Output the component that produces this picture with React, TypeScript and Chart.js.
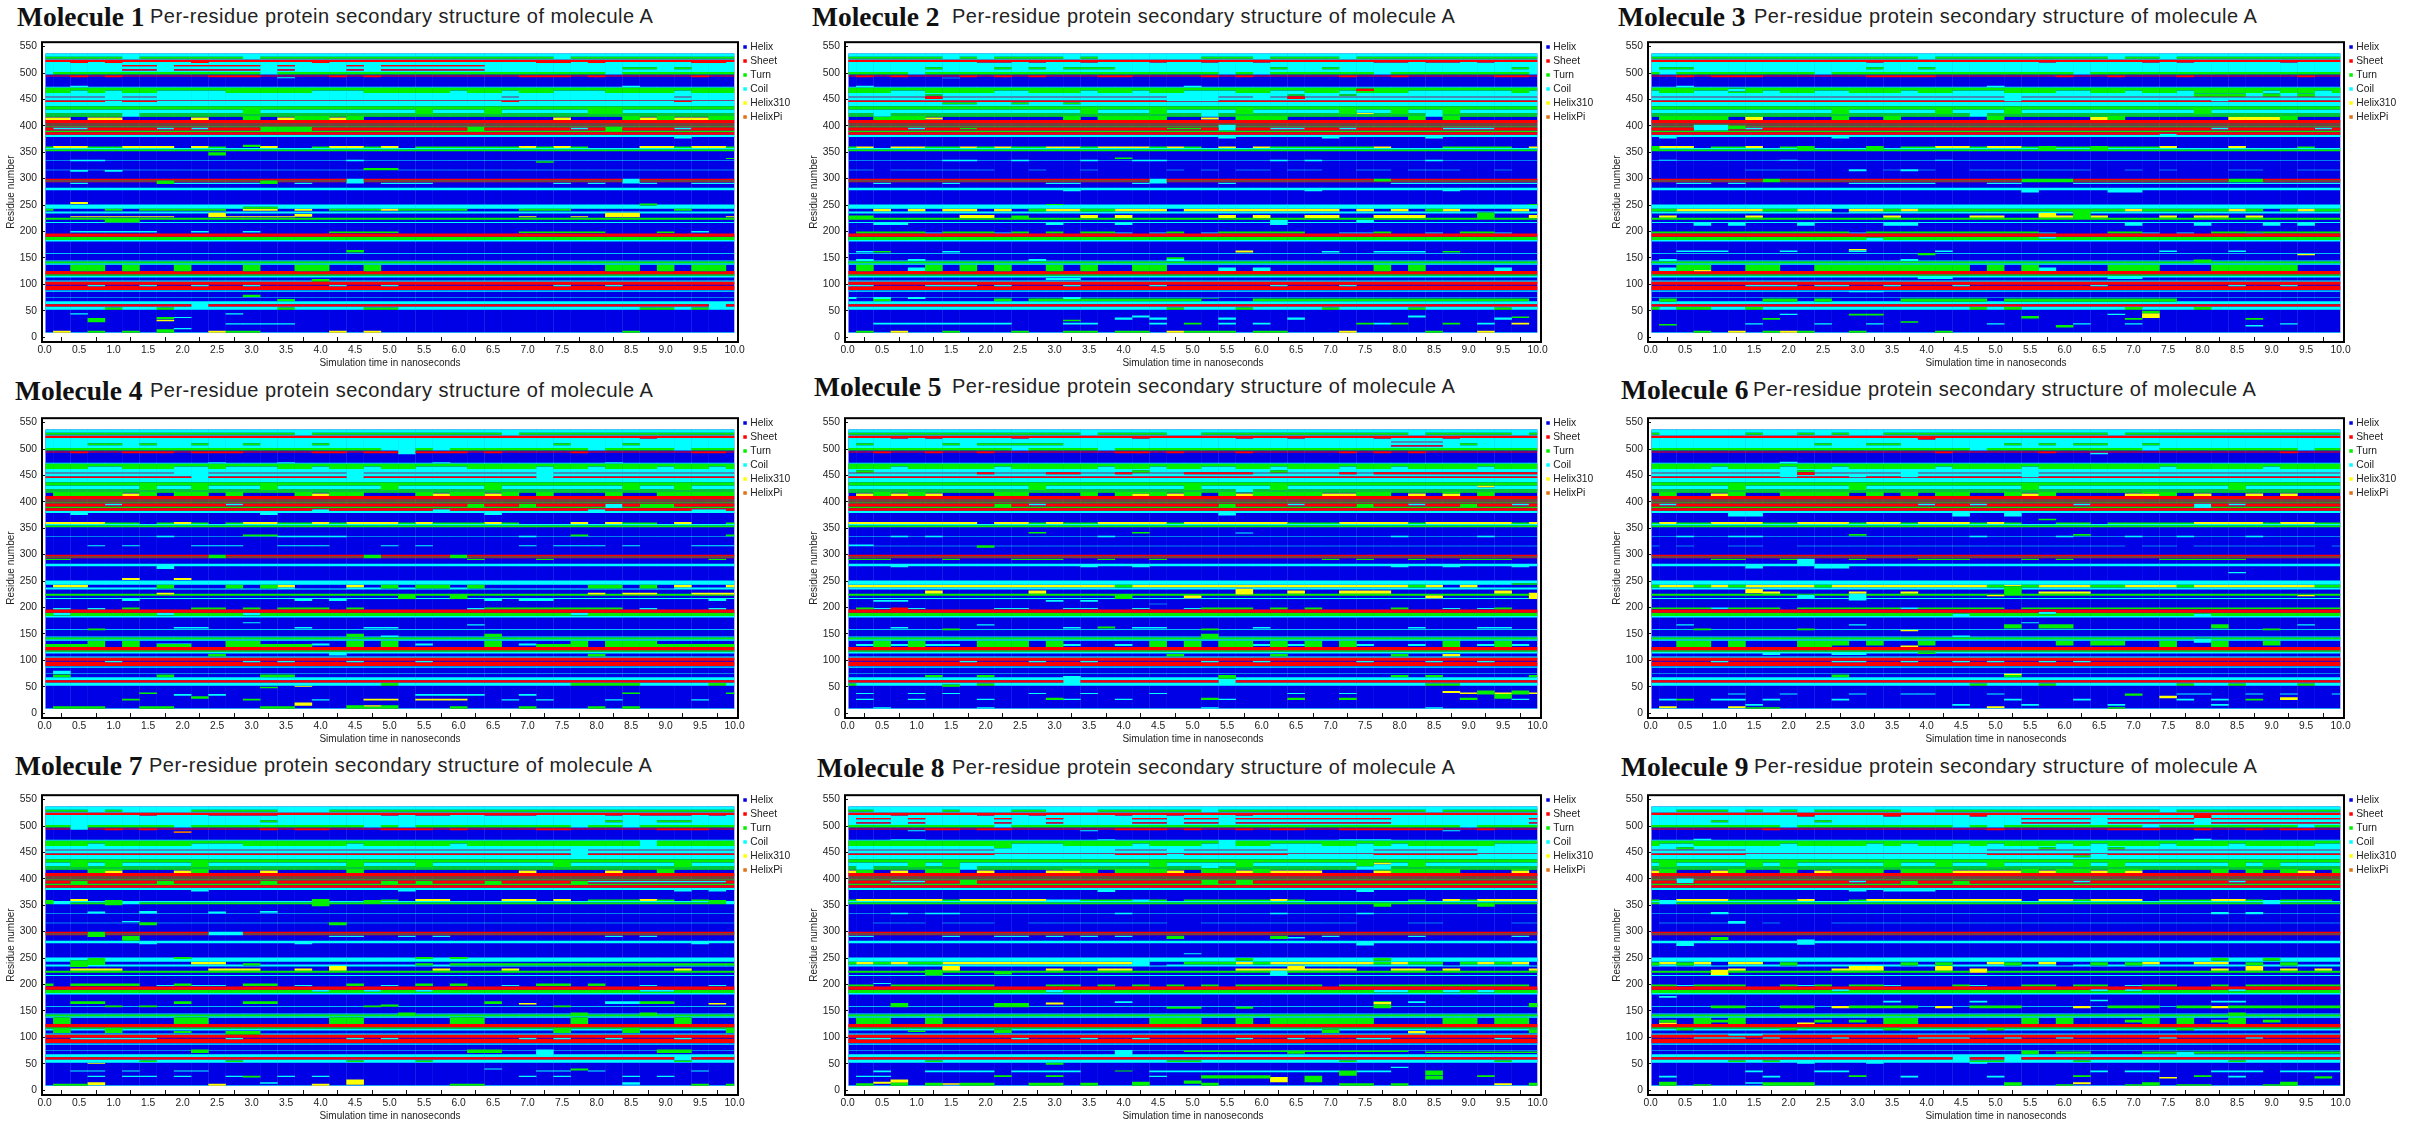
import React, { useEffect, useRef } from 'react';
import { Chart, registerables } from 'chart.js';

Chart.register(...registerables);

type Span = number | [number, number];
type Band = [number, number, string, Span[]?];

const timeSteps = [
  0, 0.25, 0.5, 0.75, 1, 1.25, 1.5, 1.75, 2, 2.25, 2.5, 2.75, 3, 3.25, 3.5, 3.75, 4, 4.25, 4.5, 4.75, 5,
  5.25, 5.5, 5.75, 6, 6.25, 6.5, 6.75, 7, 7.25, 7.5, 7.75, 8, 8.25, 8.5, 8.75, 9, 9.25, 9.5, 9.75, 10,
];
const classNames = ['Helix', 'Sheet', 'Turn', 'Coil', 'Helix310', 'HelixPi'];
const classKeys = ['H', 'S', 'T', 'C', 'Y', 'P'];
const classColors = ['#0000e6', '#ff0000', '#00f000', '#00ffff', '#ffff00', '#e07010'];
const firstResidue = 8;
const lastResidue = 537;

// bands every molecule has for most of the run
const commonBands: Band[] = [
  [531, 537, 'C'], [527, 531, 'T'], [525, 527, 'C'], [521, 525, 'S'], [502, 521, 'C'], [497, 502, 'T'],
  [495, 496, 'S'], [493, 494, 'S'], [472, 474, 'C'], [462, 472, 'T'], [448, 462, 'C'], [454, 455, 'S'],
  [445, 448, 'S'], [437, 445, 'C'], [431, 437, 'T'], [424, 431, 'C'], [421, 424, 'T'], [420, 421, 'C'],
  [417, 420, 'T'], [405, 411, 'S'], [404, 405, 'T'], [403, 404, 'S'], [402, 403, 'T'], [401, 402, 'S'],
  [400, 401, 'T'], [399, 400, 'S'], [398, 399, 'T'], [397, 398, 'S'], [396, 397, 'T'], [391, 396, 'S'],
  [388, 391, 'T'], [383, 388, 'S'], [379, 383, 'C'], [355, 358, 'C'], [352, 355, 'T'], [334, 335, 'C'],
  [316, 317, 'C'], [297, 300, 'S'], [296, 297, 'T'], [295, 296, 'S'], [294, 295, 'T'], [293, 294, 'S'],
  [278, 283, 'C'], [243, 251, 'C'], [234, 238, 'C'], [222, 226, 'T'], [216, 218, 'C'], [190, 196, 'S'],
  [184, 190, 'T'], [181, 184, 'C'], [158, 159, 'C'], [140, 143, 'T'], [137, 140, 'C'], [143, 145, 'C'],
  [119, 125, 'S'], [116, 119, 'T'], [113, 116, 'C'], [105, 107, 'C'], [89, 105, 'S'], [97, 99, 'H'],
  [86, 88, 'C'], [75, 76, 'C'], [62, 68, 'C'], [58, 62, 'S'], [52, 58, 'C'], [8, 9, 'C'],
];

const molecule1: Band[] = [
  [527, 531, 'C', [1.25, 3, 7.5]],
  [519, 522, 'S', [0.5, 1, 2.25, 4, [7.25, 7.5], 8, [9.5, 9.75]]],
  [513, 515, 'S', [[1.25, 1.5], [2, 3], 3.5, 4.5, [5, 5.5], [5.75, 6.25]]],
  [505, 507, 'S', [[1.25, 1.5], [2, 3], 3.5, 4.5, [5, 5.5], [5.75, 6.25]]],
  [507, 511, 'T', [[8.5, 8.75], 9.25]],
  [497, 502, 'C', [0, 3.25, 8.25]],
  [492, 496, 'S', [0.5, 1, [2.5, 3], 4.25, 4.75, [7, 7.5], 8, 9.5]],
  [490, 492, 'C', [3.5]],
  [473, 476, 'C', [0.5, 8.5]],
  [462, 467, 'C', [0.5, 1, [1.75, 2.5], [4, 4.5], 6, 6.75, [7.5, 8], 9.25]],
  [454, 455, 'C', [1, [1.75, 6.5], [7, 9], [9.5, 10]]],
  [445, 447, 'C', [1, [1.75, 6.5], [7, 9], [9.5, 10]]],
  [417, 427, 'C', [1.25]],
  [424, 431, 'T', [3, 5.5, 6.5, [8, 8.25]]],
  [411, 417, 'T', [3, [3.75, 4], 4.5, 8.5, 9, [9.75, 10]]],
  [411, 416, 'Y', [[0, 0.25], [0.75, 1], 2.25, 3.5, 4.25, 7.5, 8.75, [9.25, 9.5]]],
  [393, 397, 'C', [[0.25, 0.5], 1.75, 2.25, 7.75, 9.25]],
  [391, 398, 'T', [3.25, [3.5, 3.75], 6.25, 8.25]],
  [376, 381, 'C', [9.25]],
  [358, 362, 'Y', [[0.25, 0.5], [1.25, 1.75], 2.25, 3.25, [4.25, 4.5], 5, 7, 7.5, [8.75, 9], [9.5, 9.75]]],
  [358, 361, 'T', [0, 0.75, 1, 2.5, 4, 4.75, [5.5, 6.75], 7.25, 7.75, 9.25, 10]],
  [360, 364, 'T', [3]],
  [344, 350, 'T', [2.5]],
  [333, 336, 'C', [[0.5, 0.75], 4.5]],
  [330, 333, 'T', [7.25]],
  [337, 339, 'T', [10]],
  [316, 320, 'T', [[4.75, 5]]],
  [313, 316, 'C', [0.5, 1]],
  [291, 300, 'C', [4.5, 8.5]],
  [290, 297, 'T', [1.75, 3.25]],
  [290, 292, 'C', [0.5, [2, 3], 3.75, [5, 5.5], 7.5, 8, 8.75, [9.5, 10]]],
  [252, 256, 'Y', [0.5]],
  [249, 253, 'T', [8.75]],
  [239, 243, 'T', [0, 1, [1.5, 2.5], [4.25, 4.75], [5.25, 6], [7, 7.5], 9.25]],
  [240, 247, 'T', [[3, 3.25]]],
  [239, 243, 'Y', [[3, 3.25], 3.75, 5]],
  [228, 233, 'Y', [3.75]],
  [227, 236, 'Y', [2.5, [8.25, 8.5]]],
  [227, 229, 'Y', [[0.5, 1.75], [2.75, 3.5], 7, 7.75, 10]],
  [217, 222, 'T', [[1, 1.25]]],
  [197, 200, 'T', [[4.25, 5], 9, [7, 8]]],
  [198, 201, 'C', [[0.5, 1.5], 2.25, 3, 9.5]],
  [160, 165, 'T', [4.5]],
  [124, 137, 'T', [[0.5, 0.75], 1.25, 2, 3, [3.75, 4], 4.75, [8.25, 8.5], 9, [9.5, 9.75]]],
  [105, 110, 'T', [4]],
  [96, 99, 'C', [0.75, 1.5, 2.25, 3, 4.25, 5, 7.5, 8.25]],
  [76, 80, 'T', [3]],
  [68, 72, 'T', [3.5]],
  [58, 62, 'C', [2.25, 9.75]],
  [52, 56, 'T', [1, 1.75, 3.5, [4.75, 5], [8.75, 9], 9.5]],
  [43, 45, 'C', [0.5, 2.75]],
  [34, 38, 'T', [1.75]],
  [30, 33, 'Y', [1.75]],
  [28, 36, 'T', [0.75]],
  [36, 38, 'C', [2]],
  [24, 26, 'C', [[2.75, 3.5]]],
  [15, 17, 'C', [2]],
  [8, 12, 'Y', [0.25, 2.5, 4.25, 4.75]],
  [8, 12, 'T', [0.75, 1.25, 8.5, 2.75, 3]],
  [8, 15, 'T', [1.75]],
];

const molecule2: Band[] = [
  [527, 531, 'C', [1.5, 2, 3.25, [3.75, 5], 6, 7.25]],
  [520, 522, 'S', [[2, 2.25], 2.75, 3.5, 4.5, 5.25, 6, [7.75, 8], [8.5, 8.75], 9.25]],
  [507, 511, 'T', [1.25, 2.25, 2.75, [3.25, 3.75], 6.25, 7, 9.75]],
  [497, 502, 'C', [1, 5.5, 6, 7.75, 10]],
  [492, 496, 'S', [0.25, 0.75, 1.75, 2.25, 2.75, [3.75, 4], 5.25, 5.75, 7.25, 8, [9.5, 9.75]]],
  [490, 491, 'C', [1.5]],
  [474, 476, 'C', [0.25, 5]],
  [462, 467, 'C', [[0.75, 1], [2.25, 2.5], 3.5, 4.25, [5, 5.5], [6.25, 6.5], 7.25, [8.25, 9], [9.25, 9.5], 10]],
  [466, 470, 'S', [7.5]],
  [457, 460, 'T', [1.25, 6.5, 7.25]],
  [451, 456, 'S', [1.25, 6.5]],
  [454, 455, 'C', [[4.75, 5.25], 6]],
  [446, 448, 'C', [[4.75, 5.25]]],
  [441, 444, 'T', [[1.5, 1.75], 2.5, 3.25]],
  [424, 431, 'T', [3.5, 4.5, 5.75, 7.25, 8, 8.75]],
  [417, 424, 'C', [0.5, 5.25, 8.5]],
  [422, 425, 'Y', [7.5]],
  [411, 417, 'T', [[0.5, 1], 3.25, [3.75, 4.5], [5.75, 6.25], 8.25, 8.75]],
  [412, 416, 'Y', [1.25, 5.25]],
  [393, 397, 'C', [1, [5.25], [6.25, 6.5], 7.25, [8.75, 9], 9.25]],
  [391, 402, 'C', [5.5]],
  [393, 397, 'T', [1.75, [4.75, 5]]],
  [376, 381, 'C', [5.5, 7, 8.5]],
  [358, 361, 'T', [0, 1.25, 1.5, 2, 2.5, 2.75, 3.5, 4.5, 5, 6.25, [6.5, 7.5], 8.75, 9, 9.25, 9.5]],
  [358, 361, 'Y', [0.25, [0.75, 1], 1.75, 2.25, [3, 3.25], [3.75, 4.25], 4.75, 5.5, 6, 7.75, 10]],
  [337, 340, 'T', [4]],
  [333, 336, 'C', [[1.5, 1.75], 2.5, 3.5, [4.25, 4.5], 6.25, 6.75, 8.5]],
  [316, 317, 'H', [0.5, [2.25, 2.5], [3, 3.25], [3.75, 4.5], 5, 5.5, 6.25, [7, 7.25], 8, [9, 9.25], [9.75, 10]]],
  [291, 300, 'C', [4.5]],
  [294, 300, 'T', [7.75]],
  [290, 292, 'C', [0.5, 1.5, [3, 3.25], 4.25, 5.5, [8, 10]]],
  [276, 279, 'C', [3.25, 6.75, 8.75]],
  [250, 252, 'T', [3, 10]],
  [238, 243, 'Y', [0.5, 1, [1.5, 1.75], 2.25, [3, 3.25], [4, 4.5], [5, 7], 7.5, 8, 8.75, 9.75]],
  [238, 243, 'T', [2.75, 3.5, 3.75, 8.5]],
  [225, 231, 'Y', [[1.75, 2], 3.5, 4, 5.5, 6, [6.75, 7], [7.75, 8.25], 10]],
  [223, 236, 'T', [9.25]],
  [226, 230, 'T', [2.5, 0, 0.25]],
  [212, 216, 'C', [[0.5, 0.75], 3, 4, 6.25]],
  [218, 222, 'C', [7.5, 6.25]],
  [196, 200, 'T', [[0.25, 1], [1.5, 2], 2.5, 3, [3.5, 3.75], 4.75, [5.5, 6.5], 7.75, 9, 9.25]],
  [196, 198, 'C', [1.25, 2.25, 4, 4.5, 5.25, 7.25, 7.5, 8.5, 9.5]],
  [160, 164, 'Y', [5.75]],
  [160, 163, 'C', [0.25, 1.5, 7, 7.75, 8, 8.25]],
  [160, 163, 'T', [0.5, 8.75]],
  [146, 151, 'T', [4.75]],
  [124, 137, 'T', [0.25, [0.5], 1.25, 1.75, 2.25, 3, 3.5, [4.25, 4.5], 7.75, 8.25]],
  [125, 132, 'C', [1, 5.5, 6, 9.5]],
  [145, 148, 'C', [0.25, 1, 2.75, 4.75]],
  [108, 112, 'C', [3, 3.25]],
  [96, 99, 'C', [0, 0.25, [1.25, 1.5], 1.75, 2.25, 3.25, 4.5, 6.25, 7.25]],
  [68, 73, 'T', [0.5, 2.25, [2.75, 3], [3.25, 5.25], [6, 9.75]]],
  [68, 72, 'H', [5.75, 5.25]],
  [72, 76, 'C', [0, 0.5, 1, 3.25]],
  [52, 56, 'T', [7, 8.25, 9.5, 4.75, 5.75]],
  [37, 41, 'C', [4.25, 8.25]],
  [33, 37, 'C', [4, 4.5, 5.5, 6.5, 9.5]],
  [36, 39, 'T', [9.75]],
  [30, 33, 'T', [3.25]],
  [24, 27, 'C', [0.5, [0.75, 2], 2.25, [3.25, 3.5], 4.5, 5.5, 6, 7.5, 7.75, 9.25]],
  [24, 27, 'T', [5, 7.5, 8, 8.75]],
  [24, 27, 'Y', [9.75]],
  [8, 12, 'T', [0.25, 1.5, 2.5, [3.25, 3.5], [4, 4.25], [5, 5.5], [6, 6.25], 8.5]],
  [8, 12, 'Y', [0.75, 4.75, 7.25, 9.25]],
];

const molecule3: Band[] = [
  [527, 531, 'C', [4, 6.75, 7.5]],
  [520, 522, 'S', [3.25, 5.75, 7.25, 7.75, 9.25]],
  [507, 511, 'T', [[0.25, 0.5], 3.25, 4]],
  [497, 502, 'C', [0.25, 2.5, 6.25]],
  [492, 496, 'S', [0.5, [1, 1.5], [3.25, 4], 6, 6.75, 7.75, 9.5]],
  [474, 476, 'C', [0.5, 5]],
  [465, 470, 'C', [1.25]],
  [462, 467, 'C', [0, [0.75, 1], 1.75, [2.5, 2.75], 3.75, [4.5, 5], [6, 6.25], 7, 7.75, 9, 9.75]],
  [455, 461, 'T', [[8, 8.5], 9, 9.5]],
  [454, 455, 'C', [5.25]],
  [446, 448, 'C', [5.25, 8.25]],
  [424, 431, 'T', [2.75, 5.25, 4.25, 8]],
  [417, 424, 'C', [4.75]],
  [411, 417, 'T', [[0.25, 1], 2.75, 3.5, 5, 6.75, [8.25], 9.25]],
  [411, 417, 'Y', [1.5, 6.5, [8.5, 9]]],
  [391, 402, 'C', [[0.75, 1]]],
  [393, 400, 'T', [1.25]],
  [393, 397, 'C', [1.5, 8.25, 9.75]],
  [376, 380, 'C', [0.25, 2.75]],
  [381, 385, 'C', [7.5]],
  [358, 362, 'Y', [[0.25, 0.5], 1.5, [4.25, 4.5], [5, 5.25], 7.5, 8.5]],
  [355, 362, 'T', [[0, 0], 2.25, 5.75, 6.5, 3.25]],
  [358, 361, 'T', [1, 1.25, 2, 3.75, [4, 4], 4.75, 5.5, 6, 6.25, [6.75, 7.25], 9.5]],
  [334, 336, 'C', [0.25, 2, 4.25]],
  [315, 317, 'H', [[0, 1.25], [2.5, 2.75], [3, 3.25], [4.25, 4.5], [6.5, 6.75], [7.25, 7.25], [7.75, 8.25], [9, 9.25]]],
  [314, 318, 'C', [2.9, 3, 3.75]],
  [293, 300, 'T', [1.75, [5.5, 6], [8.5, 8.75]]],
  [290, 292, 'C', [[0.5, 0.75], 1.25, [3, 4], [5, 5.25], [6.25, 10]]],
  [274, 278, 'C', [5.5, [6.75, 7]]],
  [238, 243, 'T', [0, 0.25, 1.75, 2, 3.5, [4, 7], 7.25, [7.5, 8.25], 8.75, 9.25, 9.75, 10]],
  [238, 243, 'Y', [[0.5, 1.5], [2.25, 2.5], [3, 3.25], 3.75, 7, 8.5, 9.5]],
  [236, 242, 'H', [2.75]],
  [226, 230, 'Y', [0.25, 1.5, 3.5, [4.75, 5], [6, 6.5], 7.5, [8, 8.25], 8.75]],
  [226, 235, 'Y', [5.75]],
  [226, 238, 'T', [6.25]],
  [211, 216, 'C', [0.75, 1.25, 2.25, [3.5, 3.75], 7, 8, 9, 9.5]],
  [196, 200, 'T', [[0, 1.5], [1.75, 2.75], [3.25, 5.5], [6.75, 7], [8.25, 9], [9.25, 10]]],
  [196, 198, 'C', [3, 5.75, 7.25, 7.75, 8.75]],
  [183, 188, 'C', [3.25]],
  [186, 190, 'C', [5.75]],
  [161, 167, 'Y', [3]],
  [155, 159, 'T', [4]],
  [155, 158, 'Y', [9.5]],
  [161, 164, 'C', [0.5, [0.75, 1], 2, 3, 4.25, 7.5, 8.5]],
  [143, 147, 'T', [8]],
  [145, 148, 'C', [0.25, 3.75]],
  [125, 137, 'T', [[0.5, 0.75], [1.5, 1.75], [2.5, 4.5], 5, 5.5, [6.75, 7.25], [8.25, 9], 9.25]],
  [125, 132, 'C', [0.25, 5.75]],
  [124, 127, 'Y', [0.75]],
  [110, 114, 'C', [[4, 4.25], 6.75, 7]],
  [96, 99, 'C', [1.5, [1.75, 2], [2.5, 2.75], 3.5, 4.5, 6.5, 8.5, 9.25]],
  [85, 88, 'C', [3, 3.25]],
  [67, 73, 'T', [0.25, [1.75, 2], 2.5, [3.75, 4.75], [5.25, 7.5]]],
  [52, 57, 'T', [0, [0.5, 0.75], 1.5, 4.75, 5.25, 7, 8]],
  [45, 50, 'T', [7.25]],
  [40, 45, 'Y', [7.25]],
  [36, 40, 'Y', [7.25]],
  [41, 44, 'T', [[3, 3.25]]],
  [42, 44, 'C', [2, 6.75]],
  [33, 36, 'T', [1.75, 8.75, 7]],
  [35, 40, 'T', [5.5]],
  [27, 30, 'T', [3.75]],
  [22, 25, 'T', [0.25]],
  [18, 23, 'T', [6]],
  [20, 23, 'C', [8.75]],
  [24, 26, 'C', [1.5, 2.5, 3.25, 5, 6.25, 7, 9.25]],
  [8, 12, 'T', [0.75, 1.75, 2.25, 3, 4.25]],
  [8, 12, 'Y', [1.25, 2]],
];

const molecule4: Band[] = [
  [527, 531, 'C', [3.75, 6.75]],
  [520, 522, 'S', [8.75]],
  [507, 511, 'T', [[0.75, 1], 1.5, 2.25, 3, 4, 7.5, 8.5]],
  [497, 502, 'C', [5, 5.25, 5.75, 8, 9.25]],
  [490, 497, 'C', [5.25]],
  [492, 496, 'S', [0.5, [1.25, 1.75], [2.25, 2.75], [4, 4.25], [4.75, 5], [5.5, 6], 6.5, 7.75, [9.5, 9.75]]],
  [473, 475, 'C', [2.5, 3.5, 5.75, 8.25]],
  [462, 467, 'C', [[0.75, 1], [2, 2.25], [2.75, 3.25], 4, 4.75, [5.5, 6], 7.25, 8, 9, 9.75]],
  [454, 455, 'C', [[2, 2.25], 4.5, 7.25]],
  [445, 448, 'C', [2.25, 4.5, 7.25]],
  [424, 431, 'T', [1.5, 2.25, 3.25, 5, 6.5, 8.5, 9.25]],
  [411, 417, 'T', [[0.25, 1], 1.5, [2, 2.25], 2.75, 3.75, [4.25, 4.5], 5.5, [6, 6.25], 6.75, 7.25, 8.25, [9, 10]]],
  [411, 416, 'Y', [1.25, 4, 5.75, 6.5]],
  [388, 396, 'C', [8.25]],
  [393, 397, 'C', [2.75, 1]],
  [391, 397, 'T', [6.25, 7, 8.75, 9]],
  [375, 381, 'C', [0.5, 3.25, 6.5]],
  [382, 386, 'C', [4, 5.75, 8, [9.5, 9.75]]],
  [358, 362, 'Y', [[0, 0.75], 2, [3, 3.25], 4, [4.5, 5], 5.5, 6.5, 7.75, 8.25, 9.25]],
  [358, 361, 'T', [1, 1.25, 1.75, 2.25, 2.75, 3.5, 3.75, 4.25, 5.25, 5.75, 6, 6.25, 6.75, 8.5, 8.75, 10]],
  [335, 338, 'T', [[3, 3.25], 7.75, 10]],
  [333, 336, 'C', [1.75, [3.5, 4.25], 7]],
  [316, 318, 'C', [0.75, 1.25, [2.25, 2.75], [3.5, 4], 5, 5.5, 7, [7.5, 8], 8.5, [9.5, 10]]],
  [316, 317, 'H', [0, 0.25, 0.5, 1, 1.5, 1.75, 2, 3, 3.25, 4.25, 4.5, 4.75, 5.25, 5.75, 6, 6.25, 6.5, 6.75, 7.25, 8.25, 8.75, 9, 9.25]],
  [293, 300, 'T', [2.5, 4.75, 6]],
  [290, 292, 'T', [0, 0.25, 6.25, 7.25, 9.75]],
  [273, 278, 'C', [1.75]],
  [252, 256, 'Y', [1.25, 2]],
  [236, 243, 'H', [[2, 2.5], 3, [3.75, 4.25], [6.5, 7.75], 8.5, 9]],
  [238, 243, 'Y', [[0.25, 0.5], 3.5, 4.5, 9.25, 10]],
  [236, 243, 'T', [1.75, 2.75, 3.25, 5, [5.5, 5.75], 6.25, 8, 8.25, 8.75]],
  [224, 228, 'Y', [1.75, 8, [8.5, 8.75], [9.5, 10]]],
  [216, 226, 'T', [5.25, 6]],
  [212, 216, 'C', [1.25, 3.75, 4.25, 6.5, 7, 7.25, 9.75]],
  [196, 200, 'T', [1.25, [2.25, 2.5], 3, [3.5, 4], 4.5, [6.5, 8.25]]],
  [196, 199, 'C', [0.25, 0.75, 6.25, 8.75, 9.75]],
  [185, 190, 'C', [0.25, 1.75, 3, 7.75]],
  [170, 172, 'C', [3]],
  [166, 168, 'C', [6.25]],
  [157, 160, 'T', [0.75]],
  [160, 163, 'C', [2, 2.25, 3.75, 4.75, 5]],
  [144, 150, 'T', [4.5, 6.5]],
  [145, 147, 'C', [5]],
  [125, 137, 'T', [0.75, 1.25, [2.75, 3], 4.5, 5, 6.5, 7.75, [8.25, 8.75]]],
  [128, 132, 'C', [1.75, 2, 4, 5.5, 7]],
  [125, 131, 'T', [0, 0.25, 0.5, 1.75, 2, 3.25, 3.5, 3.75, 7.25, 7.5, 9, 9.25, 9.5, 9.75, 10]],
  [107, 112, 'T', [2.5, 8]],
  [109, 113, 'C', [4.25]],
  [96, 99, 'C', [1, 3, 3.5, 4.5, 5.5]],
  [68, 73, 'T', [0.25, 1.75, 3.25, 3.5]],
  [74, 80, 'C', [0.25]],
  [64, 68, 'C', [10]],
  [52, 57, 'T', [5, [7.75, 8.5], 9.75]],
  [50, 52, 'Y', [3.75]],
  [47, 50, 'T', [3.25]],
  [36, 39, 'T', [1.5, 8.5, 10]],
  [27, 32, 'T', [2.25]],
  [24, 27, 'T', [1.25, 3]],
  [24, 27, 'Y', [[4.75, 5], [5.5, 6]]],
  [33, 36, 'C', [2, 2.5, [5.5, 6.25], 7]],
  [24, 26, 'C', [4, 6.75, 7.25, 8.25, 9.5]],
  [8, 13, 'T', [[0.25, 0.75], [1.5, 1.75], [3.25, 3.5], 6, 7, 8, 8.5]],
  [8, 15, 'T', [[4.5, 5]]],
  [12, 15, 'Y', [4.75]],
  [14, 20, 'Y', [3.75]],
];

const molecule5: Band[] = [
  [527, 531, 'C', [3.5, [4.75, 5], 8.25, 9.75]],
  [520, 522, 'S', [0.75, 1.25, 2.5, 4.25, 5.75, 6.5, 7.75, 8.75]],
  [507, 511, 'T', [0.25, 1.5, [2, 3], 9]],
  [513, 514, 'S', [[8, 8.5]]],
  [505, 507, 'S', [[8, 8.5]]],
  [497, 502, 'C', [2.5, 3.75]],
  [492, 496, 'S', [0.5, 1.25, 2, [4, 4.25], 4.75, 5.75, 7.25, 7.75, 8.25]],
  [462, 467, 'C', [0.75, 2.25, [3.5], 3.75, 4.5, [5.25, 5.5], 6.25, 7.25, 8, 9.25]],
  [455, 460, 'T', [0.25, 4.25, 6.25]],
  [452, 456, 'S', [2, [3, 3.25], 4, [5, 5.75], 7.25, [7.75, 10]]],
  [424, 431, 'T', [2.75, 5, 6.25]],
  [418, 430, 'C', [5.75]],
  [427, 431, 'Y', [9.25]],
  [411, 417, 'T', [0.5, 1, [2.25, 2.5], 3.5, [4, 4.5], 5, 5.5, [6, 6.75], [7.5, 7.75], 8.75, 9.25]],
  [411, 416, 'Y', [0.25, 0.75, 1.25, 4.25, 4.75, 5.75, [7, 7.25], 8.25, 8.75]],
  [393, 397, 'C', [2.75, 6.5, 8.25, 9.75]],
  [391, 397, 'T', [2.25, 5.5, 7.5, 9]],
  [374, 380, 'C', [5.5]],
  [358, 362, 'Y', [[0, 1.75], [2.25, 2.5], 3, [3.75, 4.5], [5, 5.5], [5.75, 6.25], [7.25, 8], [8.5, 9.5], 10]],
  [358, 361, 'T', [2.75, 3.25, 3.5, 4.75, 6.5, 6.75, 7, 8.25, 9.75]],
  [340, 343, 'T', [2.75, 4.25]],
  [340, 342, 'C', [5.75]],
  [333, 336, 'C', [0.75, 1.25, 3.75, 8, 9.25]],
  [317, 319, 'C', [[0, 0.25]]],
  [313, 318, 'T', [2]],
  [290, 292, 'T', [[0, 0.5], 1.5, [2.5, 3], 3.75, 4.5, 7, 7.5, 8.25, [9, 9.5]]],
  [276, 279, 'C', [0.75, 3.5, 4.25, 8, 8.75, 9.75]],
  [238, 243, 'Y', [[0, 3.75], [4.25, 8], 8.5, 9]],
  [238, 243, 'T', [4, 8.25]],
  [243, 246, 'T', [[9.75, 10]]],
  [226, 232, 'Y', [1.25, 2.75, 6.5, [7.25, 7.75], 9.5]],
  [217, 223, 'Y', [5, 8.5]],
  [224, 236, 'Y', [5.75]],
  [216, 228, 'Y', [10]],
  [216, 226, 'T', [4]],
  [211, 214, 'C', [[0.5, 0.75], 3, 3.5]],
  [206, 207, 'C', [4.5]],
  [196, 200, 'T', [0.25, 5.25, 5.5, 5.75, 6.25, 6.75, 8, 9.5]],
  [195, 200, 'S', [0.75]],
  [197, 199, 'C', [0.5, 1, 2.25, 2.5, 3.25, 3.5, 4.25, 5, 8.75, 9.25]],
  [166, 168, 'C', [2]],
  [160, 164, 'T', [3.75]],
  [157, 160, 'T', [1.5, 5.25]],
  [160, 163, 'C', [0.75, 3.25, 4.25, 4.5, 6, 8.25, 9.25, 9.5]],
  [140, 150, 'T', [5.25]],
  [125, 137, 'T', [0.5, 1, [2, 2.5], 3, 4.5, 5, [5.5, 5.75], 6.25, 6.75, 7.25, 8.75, 9.5]],
  [127, 131, 'C', [0.25, 0.75, 1.25, 1.5, 3.25, 4, 6, 6.5, 7.5, 8.25, 9.25, 9.75]],
  [107, 112, 'T', [4.75, 6.25, 8]],
  [107, 112, 'Y', [8.75]],
  [96, 99, 'C', [1.75, 2.75, 3.5, 5.25, 6, 7.5, 8.5, 9.25]],
  [68, 72, 'T', [1.25, 2, 8, 8.5, 10]],
  [65, 72, 'T', [5.5]],
  [52, 70, 'C', [3.25]],
  [58, 62, 'C', [5.5]],
  [52, 56, 'T', [0, [8.5, 8.75], 2]],
  [50, 54, 'T', [1.5]],
  [38, 42, 'Y', [8.75]],
  [36, 39, 'Y', [9]],
  [35, 43, 'T', [9.25, 9.75]],
  [27, 36, 'T', [9.5]],
  [36, 39, 'Y', [9.5, 10]],
  [36, 38, 'C', [0.25, 1, 1.5, 2.75, 3.5, 4.5, 7.25, 6.5]],
  [25, 29, 'T', [3, 5.25, 7.25, 9, 6.5]],
  [25, 27, 'C', [0.25, 1, 2, 3.25, 4, 5.5, 9.75]],
  [8, 11, 'C', [0.5, 2, 5.25, 8.5]],
];

const molecule6: Band[] = [
  [527, 531, 'C', [[0.25, 1.25], [1.75, 2], 2.5, [3, 3.25], 6.75]],
  [518, 522, 'S', [4]],
  [507, 511, 'T', [2.5, [3.25, 3.5], 5.25, 5.75, [6.25, 6.5], 7.25]],
  [497, 502, 'C', [4.75, 7.25, 9.5]],
  [492, 496, 'S', [4.25, 5.75, 9.25]],
  [490, 493, 'C', [6.5]],
  [473, 476, 'C', [2]],
  [462, 467, 'C', [2, 2.75, 4.25, 1, 5.5, 7.5, 9]],
  [456, 460, 'T', [2.25]],
  [451, 456, 'S', [2.25]],
  [454, 455, 'C', [2, 3.75, 5.5]],
  [446, 448, 'C', [2, 3, 3.75, 5.5]],
  [424, 431, 'T', [1.25, 3, 5.5, 8.5]],
  [411, 417, 'T', [0.25, 1.25, [2, 2.75], 3.25, 3.75, [4.25, 4.5], 5.25, 5.75, 7.25, 7.5]],
  [411, 416, 'Y', [1, 5.5, [7, 7.25], 8, 8.75, 9.25]],
  [393, 397, 'C', [0.25, 4, 4.75, 6.25, 8.5]],
  [388, 397, 'C', [8]],
  [372, 379, 'C', [[1.25, 1.5], 4.5, 5.25]],
  [358, 362, 'Y', [0.25, [1, 1.5], [2.25, 2.75], [3.25, 3.5], [4, 4.5], 5, [8, 8.75], [9.25, 9.5]]],
  [358, 361, 'T', [0, 0.5, 0.75, 1.75, 2, 3, 3.75, 4.75, 5.25, 6, 6.25, 6.75, 7, 7.25, 7.5, 7.75, 9, 9.75, 10]],
  [365, 368, 'T', [5.75]],
  [336, 339, 'T', [3, 6.25]],
  [333, 336, 'C', [0.5, 1.25, 1.5, 4.75, 6, 7, 7.75, 8.75]],
  [315, 317, 'H', [0.25, [0.75, 1], 1.75, 2, 7, 7.75, 9.75]],
  [280, 292, 'C', [2.25]],
  [290, 292, 'T', [[1, 1.25], 2, 3, [4, 4.5], 5.5, 6, 7.5, [7.75, 8.5]]],
  [274, 278, 'C', [1.5, [2.5, 2.75]]],
  [265, 267, 'C', [8.5]],
  [238, 243, 'Y', [[0.25, 0.5], 1, [1.5, 2.25], [2.75, 4.75], 5.25, [5.75, 6.25], [7, 7.5], [8, 9.5]]],
  [238, 243, 'T', [0, 0.75, 1.25, 2.5, 5, 5.5, 6.5, 6.75, 7.75, 9.75, 10]],
  [227, 236, 'Y', [1.5]],
  [226, 230, 'Y', [1.75, 3, 3.75, [5.75, 6.25]]],
  [221, 224, 'Y', [5, 9.5]],
  [226, 240, 'T', [5.25]],
  [216, 224, 'C', [2.25]],
  [213, 226, 'C', [3]],
  [196, 205, 'H', [2, 5.25]],
  [197, 200, 'T', [0, 0.25, 0.5, 0.75, [1.25, 1.75], [2.25, 3.5], [4, 5], [5.5, 10]]],
  [197, 200, 'C', [1, 3.75]],
  [183, 188, 'C', [4.5, 8]],
  [187, 192, 'C', [5.75]],
  [166, 168, 'C', [0.5, 3, 9.5]],
  [170, 172, 'C', [5.5]],
  [157, 160, 'T', [0.75, 2.25, 9]],
  [155, 158, 'Y', [3.75]],
  [160, 168, 'T', [5.25, [5.75, 6], 8.25]],
  [143, 147, 'C', [4.5]],
  [125, 137, 'T', [[0.5, 0.75], 1.25, [2.25, 2.5], 7.5, 8.25]],
  [128, 137, 'T', [2.75, 3.25, 4, 6, 6.5, 6.75, 9]],
  [133, 141, 'C', [8]],
  [125, 128, 'Y', [3.75]],
  [110, 115, 'C', [1.75, [2.75, 3]]],
  [112, 115, 'T', [4]],
  [96, 99, 'C', [1, [2.75, 3], 3.75, 4.5, 5, 5.75, 6.25]],
  [68, 73, 'T', [2.75, 5.25]],
  [72, 75, 'Y', [5.25]],
  [64, 68, 'C', [8.5]],
  [52, 56, 'T', [4.75, 5.75, 7.75, 8.5, 9.5]],
  [28, 33, 'Y', [7.5]],
  [25, 30, 'Y', [9.25]],
  [33, 37, 'T', [7]],
  [24, 27, 'T', [0.5, 8.75]],
  [24, 27, 'C', [0.25, 1, 1.25, 1.75, 2.75, 5.25, 6.25, 7.75, 8.25]],
  [35, 37, 'C', [1.25, 2, 3, [3.75, 4], 5, 7.75, 8, 8.75, 9.25, 10]],
  [9, 13, 'Y', [0.25, 1.25, 5]],
  [8, 11, 'T', [[1.5, 1.75], 6.75]],
  [14, 17, 'C', [1.5, 4.5, 5.5, 6.75, 8.25]],
];

const molecule7: Band[] = [
  [527, 531, 'C', [0.75, [1.25, 1.5], [1.75, 2], [3.5, 4]]],
  [520, 522, 'S', [1.5, [2.5, 3.25], 5, [5.5, 5.75], [6.5, 7], 8.25, [8.75, 9.25], 9.75]],
  [507, 511, 'T', [3.25, 8.25, [9, 9.25]]],
  [497, 502, 'C', [0.5, 2, 4.75, 5.25, 7.75, 8.5]],
  [492, 496, 'S', [1, 1.5, 3.25, [3.75, 4], [5, 5.5], 6, [7.25, 7.5], [9, 9.5]]],
  [487, 490, 'P', [2]],
  [493, 497, 'C', [0.5]],
  [462, 467, 'C', [[2.25, 2.75], 0.75, 4.5, 6, 8.75]],
  [462, 472, 'C', [8.75]],
  [440, 462, 'C', [7.75]],
  [454, 455, 'C', [7.75]],
  [445, 448, 'C', [7.75]],
  [424, 431, 'T', [0.5, 1, 2.25, 4.5, 5.5, 7.5, 9.25]],
  [411, 417, 'T', [[0.75, 1], 2.25, 4.5, 9]],
  [411, 416, 'Y', [1, 2, 3.25, 7, 8.25]],
  [391, 397, 'T', [0.5, 1.75, 3.25, 5, 5.5, 6.5, 7.75]],
  [393, 396, 'C', [[8, 9.75]]],
  [376, 381, 'C', [2.25, 5.25, 9.25, 9.75]],
  [358, 362, 'Y', [0.5, [5.5, 5.75], [6.75, 7], 7.5, 8.75]],
  [353, 360, 'T', [0, 4.75, 9.75]],
  [350, 360, 'T', [1]],
  [348, 362, 'T', [4]],
  [352, 358, 'C', [0.25, 1.25, 10]],
  [358, 361, 'T', [5, 8, 8.25, 8.5, 9, 9.5]],
  [335, 338, 'C', [2.5, 0.75, 1.5]],
  [336, 339, 'C', [1.5, 3.25]],
  [312, 318, 'T', [1.5, 4.25]],
  [318, 320, 'C', [1.25]],
  [290, 300, 'T', [0.75]],
  [293, 300, 'C', [[2.5, 2.75]]],
  [283, 292, 'T', [1.25]],
  [290, 292, 'C', [[4.25, 4.5], 5.25, 5.75, 8.25, 8.75]],
  [276, 280, 'C', [1.5, 3.75, 9.5]],
  [237, 250, 'T', [0.75]],
  [248, 252, 'T', [2, 5.5, 6]],
  [240, 243, 'H', [0, 0.25, 2, 3, 3.25, 4.25, 4.5, 5, 5.25]],
  [238, 243, 'Y', [[2.25, 2.5]]],
  [236, 240, 'T', [[6, 10], 3, 5.5]],
  [233, 246, 'T', [0.5]],
  [226, 230, 'Y', [[0.5, 1], [2.5, 3], 3.75, 5.75, 6.75, 9.25]],
  [226, 235, 'Y', [4.25]],
  [197, 202, 'T', [0, [0.5, 1.25], 2, 3, 3.25, 4.5, 5.5, 6, [7.25, 7.5], 8]],
  [197, 199, 'C', [1.75, 2.25, 2.5, 3.75, 5, 6.75, 8.75, 9.75]],
  [186, 190, 'C', [4, 4.75, 5.5, [8.75, 9]]],
  [163, 168, 'T', [[0.5, 0.75], 2, [3, 3.25], 6.5, [8.75, 9]]],
  [158, 162, 'T', [5]],
  [162, 165, 'Y', [7, 9.75]],
  [163, 168, 'C', [[8.25, 8.5]]],
  [157, 160, 'T', [1, 1.5, 4.75, 7.5]],
  [142, 147, 'T', [5.25, 7.75, 8.75]],
  [125, 138, 'T', [0.25, [2, 2.25], [4.25, 4.5], [6, 6.25], 7.75, 9.25]],
  [108, 116, 'T', [0.25, 1, 7.5, 8.5, 10]],
  [105, 112, 'T', [[2.75, 3]]],
  [108, 112, 'T', [1.9]],
  [96, 99, 'C', [[0.5, 1.5], 2.75, 4.5, 5, 7, 7.5, 8.25, 9.25]],
  [70, 77, 'T', [2.25, [6.25, 6.5], [9, 9.25]]],
  [68, 77, 'C', [7.25]],
  [58, 66, 'C', [9.25]],
  [53, 56, 'T', [1.5, 2.75, 4.5, 5.5, 9.25]],
  [50, 52, 'Y', [0.75]],
  [37, 41, 'T', [7.75]],
  [39, 41, 'C', [6.5]],
  [35, 37, 'C', [0.5, 0.75, 1.25, 2, 2.25, [7.25, 7.5], 8, 9.5]],
  [24, 27, 'T', [3]],
  [25, 27, 'C', [0.75, 1.25, 1.5, 2, 2.75, 3.5, 4, 7, 7.5, 8.5, 9]],
  [9, 15, 'Y', [0.75]],
  [8, 12, 'Y', [2.5, 4]],
  [8, 12, 'T', [0.25, 0.5, [6, 6.25], 9.5, 10]],
  [10, 20, 'Y', [4.5]],
  [10, 15, 'C', [8.5]],
  [12, 15, 'C', [3.25]],
];

const molecule8: Band[] = [
  [527, 531, 'C', [0.5, 0.75, 1, 1.25, 1.75, 2, 2.25, 3, 3.25, 3.5, 5.25, 8.5]],
  [520, 522, 'S', [0.75, 2, 2.75, 4, 4.75, 5.75]],
  [513, 515, 'S', [[0.25, 0.5], 1, 2.25, 3, [4.25, 4.5], [5, 5.25], [5.75, 6.25], [6.5, 7.75], 10]],
  [505, 507, 'S', [[0.25, 0.5], 1, 2.25, 3, [4.25, 4.5], [5, 5.25], [5.75, 6.25], [6.5, 7.75], 10]],
  [497, 502, 'C', [9, 2.25]],
  [492, 496, 'S', [[1.25, 1.5], [2, 2.25], [4, 4.5], 5, 5.75, 6.25, 6.5, [7.25, 8.5], 9.25]],
  [490, 492, 'C', [1, 3.5, 8.75]],
  [473, 475, 'C', [[0.75, 1], 3.75, [7.25, 7.75]]],
  [462, 472, 'C', [5.5]],
  [462, 467, 'C', [[2.5, 3], 4.25, 5.25, [6.25, 6.75], 7.5, 8, [9.5, 10]]],
  [458, 462, 'T', [2.25]],
  [454, 455, 'C', [[2.25, 3.75], 4.75, [6.5, 7.25], 7.5, [9.25, 10]]],
  [445, 447, 'C', [[2.25, 3.75], 4.75, [6.5, 7.25], 7.5, [9.25, 10]]],
  [424, 431, 'T', [1, 1.5, 4.5, 5.75, 7.5, 8.25]],
  [417, 424, 'C', [0.25, 1.75, 5.25, [7.5, 7.75]]],
  [427, 431, 'Y', [7.75]],
  [411, 417, 'T', [0.25, 1.25, 1.5, [3.25, 3.5], [4, 4.5], 5.5, 6, 7.75, 8, 8.25, 8.5, 8.75, 9.75]],
  [411, 420, 'T', [5.25]],
  [411, 416, 'Y', [0, 0.75, 2, [3, 3.25], 4.75, 5.75, [6.25, 6.75], 7.75, 9.75]],
  [393, 397, 'C', [[0.75, 1]]],
  [391, 399, 'T', [1.75, 5.25, 5.75]],
  [375, 380, 'C', [3.75, 7.5]],
  [358, 362, 'Y', [[0.25, 1.25], [1.75, 2.75], 6.25, 8.75, [9.25, 10]]],
  [358, 361, 'T', [0, 1.5, 3.5, [3.75, 4], 4.5, [5, 5.75], 6, 6.5, 8.25, 9]],
  [358, 361, 'C', [[3, 3.25], 4.25]],
  [347, 352, 'T', [7.75, 9.25]],
  [333, 336, 'C', [0.75, 1.25, 1.5, 4, 6.25, 7.5]],
  [315, 317, 'H', [0, 0.25, [1.25, 1.25], [2.25, 2.5], 4.75, 5, 7.5, 7.75, 8.0, 8.75, 9, 9.25, 9.5]],
  [286, 292, 'T', [4.75, 6.25]],
  [287, 290, 'C', [6.5]],
  [290, 292, 'C', [0, 0.25, 1.5, [2.25, 2.5], 3, 3.5, 4, 7, 8.25, 9.75]],
  [274, 278, 'C', [7.5]],
  [257, 259, 'C', [5]],
  [238, 243, 'Y', [0.25, 0.75, [1.5, 4], 5.75, 6.25, [6.5, 7.5], 8, 9.25, 9.75]],
  [245, 250, 'T', [5.75, 7.75]],
  [236, 244, 'C', [4.25]],
  [236, 243, 'H', [4.5, 8.75, 10]],
  [238, 243, 'T', [0, 0.5, 1, 1.25, 5, 5.25, 5.5, 6, 7.75, 8.25, 8.5, 9, 9.5]],
  [226, 235, 'Y', [1.5]],
  [226, 236, 'Y', [6.5]],
  [226, 230, 'Y', [3, [3.75, 4], [5.75, 6.25], [6.75, 7.25], [8, 8.25], 8.75, 10]],
  [217, 228, 'T', [1.25]],
  [219, 224, 'T', [2.25]],
  [216, 226, 'C', [6.25]],
  [196, 200, 'T', [0, 0.25, [0.75, 1.75], 2, 3, 3.25, 3.75, 4.25, 4.75, 5.25, [5.75, 6.75], [7.25, 9.5], 9.75]],
  [196, 200, 'H', [7]],
  [201, 203, 'C', [0.5]],
  [185, 190, 'C', [[7.75, 8], 3, 8.75, 9.25]],
  [157, 165, 'T', [0.75, [2.25, 2.5], 10]],
  [162, 166, 'Y', [3]],
  [155, 168, 'T', [7.75]],
  [162, 167, 'Y', [7.75]],
  [165, 168, 'C', [4, 8.25]],
  [154, 158, 'T', [[4.75, 5], 5.75]],
  [125, 137, 'T', [[0.25, 0.5], 1.25, [4.5, 5], 5.75, [6.25, 6.75], [7, 7.5], [8.75, 9], [9.5, 9.75]]],
  [108, 115, 'T', [2.25, 7, 10]],
  [110, 113, 'T', [1]],
  [107, 112, 'Y', [8.25]],
  [96, 99, 'C', [[0.25, 0.5], 2.5, 3.5, 4.25, 5.75, 6.5, [7.5, 7.75], 9.5]],
  [72, 75, 'T', [[5, 8]]],
  [70, 73, 'T', [[8.5, 10]]],
  [69, 74, 'T', [6.5]],
  [66, 75, 'C', [4]],
  [53, 56, 'T', [1.25, 7.25, 9.5, [4.75, 5]]],
  [48, 52, 'T', [3]],
  [42, 44, 'C', [8]],
  [35, 37, 'T', [4]],
  [28, 37, 'T', [8.5]],
  [34, 37, 'C', [0.5, [1.25, 2], [2.5, 3.25], [4.5, 7.75]]],
  [25, 28, 'T', [2.25, 3, 9.25]],
  [25, 27, 'C', [0.25, 0.5, 4.5]],
  [22, 28, 'T', [5.25, 5.5, 5.75, 6]],
  [15, 27, 'T', [6.75]],
  [15, 25, 'Y', [6.25]],
  [27, 37, 'T', [7.25]],
  [20, 27, 'T', [8.5]],
  [8, 13, 'T', [0.25, 7.25, 7.5, 8]],
  [12, 16, 'Y', [0.5]],
  [14, 20, 'Y', [0.75]],
  [8, 14, 'T', [0.75, 1.25, [1.75, 2], [2.75, 3], 3.5, 5.25, 10]],
  [10, 13, 'Y', [1.5]],
  [8, 16, 'T', [4.25]],
  [12, 18, 'T', [5]],
  [9, 13, 'Y', [9.5]],
];

const molecule9: Band[] = [
  [527, 531, 'C', [[0, 0.25], 1.25, 1.75, 2.25, [3.75, 4], 7.5]],
  [518, 522, 'S', [2.25, 3.5, 4.75]],
  [515, 522, 'S', [8]],
  [507, 511, 'T', [1, 2.5]],
  [513, 515, 'S', [[5.5, 6.25], [6.75, 7.75], [8.25, 10]]],
  [505, 507, 'S', [[5.5, 6.25], [6.75, 7.75], [8.25, 10]]],
  [497, 502, 'C', [2, 4.5, 5, 7.25, 9.5]],
  [492, 496, 'S', [1.75, 5, [6.75, 7.25], 8, 8.75, [9.25, 9.5]]],
  [473, 476, 'C', [0.75, 8]],
  [462, 467, 'C', [0.25, 0.5, 2, 3.25, 3.75, 4.5, 5, 6, 6.5, 7.5, 8.5, [9.75, 10]]],
  [456, 460, 'T', [0.5, 5.75, 6.75]],
  [454, 455, 'C', [[1.5, 4.75], 6.5, [7.75], [8.25]]],
  [445, 447, 'C', [[1.5, 4.75], 6.5, [7.75], [8.25]]],
  [441, 444, 'T', [6.25]],
  [424, 431, 'T', [0.25, 1.5, 2, 3.5, 4.25, 5, 6.25, 6.75, 8.5, 9]],
  [411, 417, 'T', [0.25, 1.25, 2, 2.75, [3, 3.25], [3.75, 4.25], 5.5, 6, 6.25, 6.75, 7, 8.25, 8.75, 9.25, 10]],
  [411, 416, 'Y', [0, 1, 2.5, [4.5, 5.25], 5.75, 6.5, 7, 9.5]],
  [392, 401, 'C', [0.5]],
  [393, 397, 'C', [3, 6.25, 8.5]],
  [391, 397, 'T', [3.75, 4.5]],
  [376, 380, 'C', [3, [3.5, 4]]],
  [358, 362, 'Y', [[0.5, 1], 2.25, [3.25, 5.25], 5.75, [6, 7], [8.25, 8.5]]],
  [358, 361, 'T', [0, 1.25, 1.5, 1.75, 2, 3, 6.25, 7.5, 7.75, 8, 8.75, 9.25, 9.5, 9.75]],
  [352, 360, 'C', [0.25, 9]],
  [333, 337, 'C', [1, 8.25, 8.75]],
  [315, 320, 'C', [1.25]],
  [316, 317, 'H', [0, 1.5, [2, 2.5]]],
  [284, 290, 'T', [1]],
  [273, 278, 'C', [0.5]],
  [275, 285, 'C', [2.25]],
  [238, 243, 'Y', [0.25, 0.75, [1.25, 1.5], 5, 5.75, 7.25, [8, 8.25]]],
  [236, 243, 'H', [1, 6]],
  [236, 242, 'T', [3.75, 0, 0.5, 2, 4.25, 5.25, 6.5, 7, 8.75, 9.25]],
  [245, 250, 'T', [8.25, 9]],
  [226, 230, 'Y', [1.25]],
  [218, 228, 'Y', [1]],
  [226, 235, 'Y', [[3, 3.25], 4.25, 8.75]],
  [222, 230, 'Y', [4.75]],
  [226, 230, 'Y', [2.75, 8.25, 9.25, 9.75]],
  [196, 200, 'H', [1.5, 2.75, [3.75, 4.25], 5]],
  [196, 200, 'T', [0, 0.25, 0.75, 1, 1.25, 2, 2.5, 3, 3.25, 4.5, 5.5, 5.75, 6.25, 6.5, 7.25, 7.5, 8.25, 8.75, [9, 10]]],
  [197, 199, 'C', [0.5, 2.25, 3.5, 7, 4.75]],
  [187, 191, 'C', [2.75, 6.5, 7, 8.5]],
  [175, 178, 'C', [0.25]],
  [166, 169, 'C', [3.5, 4.75, 8.25, 8.5]],
  [168, 171, 'C', [6.5]],
  [155, 160, 'T', [[1, 1.25], [2, 2.25], [3, 3.75], [4.75, 5.25], [6.75, 7.25], [7.75, 8], [8.5, 10]]],
  [155, 159, 'Y', [2.75, 4.25, 6.25, 8.25]],
  [142, 147, 'T', [8.5]],
  [125, 137, 'T', [0.75, 1.25, [3.5, 3.75], 5.5, 6, 7.25, 7.75, 8.5]],
  [128, 133, 'T', [0.25, 1, 2.5, 3, 7, 8.25, 9]],
  [125, 128, 'Y', [0.25, 2.25]],
  [113, 118, 'T', [0.5, 2, 3.5, 5, 7.75]],
  [97, 100, 'C', [[0.75, 1.25], 1.75, 2.75, [3.9, 4.5], 5.25, 6, 7.5, 8.75]],
  [103, 106, 'C', [[1.25, 1.5]]],
  [68, 75, 'T', [5.5]],
  [69, 73, 'T', [[6, 6.25], [7.25, 10]]],
  [64, 72, 'C', [7.75]],
  [58, 62, 'C', [4.5, 5.25]],
  [53, 56, 'T', [1.25, 1.75, [4.75, 5], 6.25, 8.5]],
  [50, 53, 'C', [2.25, 3.25, 4.75]],
  [34, 37, 'C', [1.5, 2.5, 6.5, [2.75, 2.75], [7, 7.25], [8.25, 8.75], [9.25, 10]]],
  [25, 28, 'T', [3, 6.25, 8]],
  [22, 25, 'Y', [7.5]],
  [24, 27, 'C', [5, 8.5, 0.25, 1.75, 3.75]],
  [22, 26, 'T', [9.75]],
  [8, 16, 'T', [0.25, 9.25]],
  [8, 11, 'T', [0.75, 6, 7, 7.75, 8, 9]],
  [12, 15, 'C', [1.5]],
  [8, 15, 'T', [[1.75, 2.25], 5.25, 7.25]],
  [11, 15, 'Y', [6.25]],
];

const moleculeBands = [molecule1, molecule2, molecule3, molecule4, molecule5, molecule6, molecule7, molecule8, molecule9];
const moleculeTitles = ['Molecule 1', 'Molecule 2', 'Molecule 3', 'Molecule 4', 'Molecule 5', 'Molecule 6', 'Molecule 7', 'Molecule 8', 'Molecule 9'];
const subtitle = 'Per-residue protein secondary structure of molecule A';

// frame corner of each plot, and where its two title pieces sit
const framePositions = [
  [42, 36], [845, 36], [1648, 36],
  [42, 412], [845, 412], [1648, 412],
  [42, 789], [845, 789], [1648, 789],
];
const titlePositions = [
  [17, 24, 150], [812, 24, 952], [1618, 24, 1754],
  [15, 398, 150], [814, 394, 952], [1621, 397, 1753],
  [15, 773, 149], [817, 775, 952], [1621, 774, 1754],
];

const spanHas = (spans: Span[] | undefined, t: number) => {
  if (!spans) return true;
  return spans.some((s) => {
    if (Array.isArray(s)) return t >= s[0] - 0.01 && t <= s[1] + 0.01;
    return Math.abs(s - t) < 0.13;
  });
};

// paint bands into a residue grid per time step, then merge runs into floating bars
const buildSeries = (bands: Band[]) => {
  const series: Record<string, { x: number; y: [number, number] }[]> = {};
  classKeys.forEach((k) => (series[k] = []));
  timeSteps.forEach((t) => {
    const column: string[] = [];
    for (let r = firstResidue; r < lastResidue; r++) column[r] = 'H';
    [...commonBands, ...bands].forEach(([lo, hi, cls, spans]) => {
      if (!spanHas(spans, t)) return;
      for (let r = lo; r < hi; r++) column[r] = cls;
    });
    series.H.push({ x: t, y: [firstResidue, lastResidue] });
    let start = firstResidue;
    for (let r = firstResidue + 1; r <= lastResidue; r++) {
      if (column[r] !== column[start]) {
        if (column[start] !== 'H') series[column[start]].push({ x: t, y: [start, r] });
        start = r;
      }
    }
  });
  return classKeys.map((k, i) => ({
    label: classNames[i],
    data: series[k],
    backgroundColor: classColors[i],
    borderWidth: 0,
    inflateAmount: 0,
    barPercentage: 1.02,
    categoryPercentage: 1,
    grouped: false,
    order: k === 'H' ? 1 : 0,
    clip: { left: -3.5, right: -3.7, top: 0, bottom: 0 },
  }));
};

const panelPlugin = {
  id: 'panelFrame',
  afterLayout(chart: any) {
    const area = chart.chartArea;
    const legend = chart.legend;
    legend.left = area.right + 3.3;
    legend.right = chart.width;
    legend.top = area.top - 4;
    legend.bottom = area.top + 100;
  },
  afterDatasetsDraw(chart: any) {
    const { ctx, chartArea } = chart;
    ctx.save();
    ctx.strokeStyle = '#000';
    ctx.lineWidth = 2;
    ctx.strokeRect(chartArea.left, chartArea.top, chartArea.width, chartArea.height);
    ctx.restore();
  },
};

const Panel: React.FC<{ index: number }> = ({ index }) => {
  const chartRef = useRef<HTMLCanvasElement>(null);

  useEffect(() => {
    if (!chartRef.current) return;
    const chart = new Chart(chartRef.current, {
      type: 'bar',
      data: { datasets: buildSeries(moleculeBands[index]) as any },
      plugins: [panelPlugin],
      options: {
        responsive: false,
        animation: false,
        events: [],
        layout: { padding: { top: 8, right: 60, left: 0, bottom: 0 } },
        plugins: {
          tooltip: { enabled: false },
          legend: {
            position: 'chartArea',
            align: 'start',
            labels: {
              usePointStyle: true,
              pointStyle: 'rect',
              boxWidth: 0.1,
              boxHeight: 3.5,
              padding: 3.7,
              color: '#222',
              font: { family: 'Liberation Sans', size: 10.3 },
              sort: (a: any, b: any) => a.datasetIndex - b.datasetIndex,
            },
          },
        },
        scales: {
          x: {
            type: 'linear',
            offset: false,
            min: -0.038,
            max: 10.049,
            afterFit: (s: any) => {
              s.height = 30;
            },
            border: { display: false },
            grid: { drawOnChartArea: false, tickLength: -5, tickColor: '#111' },
            ticks: {
              stepSize: 0.5,
              includeBounds: false,
              maxRotation: 0,
              autoSkip: false,
              padding: 7,
              color: '#222',
              font: { family: 'Liberation Sans', size: 10.3 },
              callback: (v: any) => Number(v).toFixed(1),
            },
            title: {
              display: true,
              text: 'Simulation time in nanoseconds',
              color: '#222',
              padding: { top: 0, bottom: 3 },
              font: { family: 'Liberation Sans', size: 10 },
            },
          },
          y: {
            min: -9.3,
            max: 558.4,
            afterFit: (s: any) => {
              s.width = 38;
            },
            border: { display: false },
            grid: { drawOnChartArea: false, tickLength: -3, tickColor: '#111' },
            ticks: {
              stepSize: 50,
              includeBounds: false,
              padding: 8,
              color: '#222',
              font: { family: 'Liberation Sans', size: 10.3 },
            },
            title: {
              display: true,
              text: 'Residue number',
              color: '#222',
              padding: { top: 1, bottom: 0 },
              font: { family: 'Liberation Sans', size: 10 },
            },
          },
        },
      } as any,
    });
    return () => {
      chart.destroy();
    };
  }, [index]);

  const [frameX, frameY] = framePositions[index];
  return (
    <canvas
      ref={chartRef}
      width={794}
      height={344}
      style={{ position: 'absolute', left: frameX - 38, top: frameY - 8, width: 794, height: 344 }}
    />
  );
};

const App: React.FC = () => (
  <div style={{ position: 'absolute', left: 0, top: 0, width: 2409, height: 1129, background: '#fff', overflow: 'hidden' }}>
    {moleculeTitles.map((title, i) => {
      const [molX, baseline, subX] = titlePositions[i];
      return (
        <React.Fragment key={title}>
          <span
            style={{
              position: 'absolute', left: molX, top: baseline - 23, lineHeight: 1, whiteSpace: 'nowrap',
              font: 'bold 27.5px "Liberation Serif"', color: '#111',
            }}
          >
            {title}
          </span>
          <span
            style={{
              position: 'absolute', left: subX, top: baseline - 18.5, lineHeight: 1, whiteSpace: 'nowrap',
              fontFamily: '"Liberation Sans"', fontSize: 20, letterSpacing: 0.5, color: '#222',
            }}
          >
            {subtitle}
          </span>
        </React.Fragment>
      );
    })}
    {moleculeBands.map((_, i) => (
      <Panel key={i} index={i} />
    ))}
  </div>
);

export default App;
